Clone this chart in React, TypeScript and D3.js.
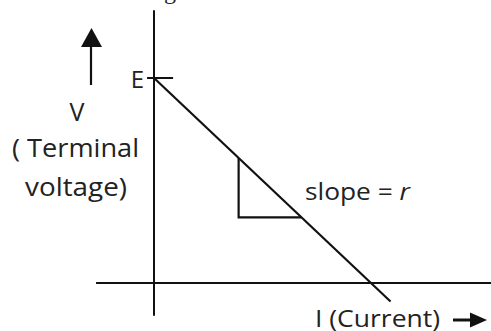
import React from "react";
import * as d3 from "d3";

// Data (arbitrary units): V = E - r * I
const emf = [10];
const slopeR = [1];
const lineCurrent = [0, 10.9];
const triangleCurrent = [3.9, 6.8];
const axisCurrentExtent = [-2.67, 15.6];
const axisVoltageExtent = [-1.6, 13.3];
const eTickCurrent = [-0.32, 0.88];
const labels = {
  e: "E",
  v: "V",
  vSub1: "( Terminal",
  vSub2: "voltage)",
  slope: "slope = ",
  slopeVar: "r",
  x: "I (Current)",
};

const W = 491;
const H = 331;

export default function App() {
  const x = d3.scaleLinear().domain([0, 10]).range([154, 371]);
  const y = d3.scaleLinear().domain([0, 10]).range([283, 78]);
  const E = emf[0];
  const r = slopeR[0];
  const V = (i: number) => E - r * i;
  const line = d3
    .line<number>()
    .x((d) => x(d))
    .y((d) => y(V(d)));
  const tri = d3.line<[number, number]>().x((d) => x(d[0])).y((d) => y(d[1]));
  const [t0, t1] = triangleCurrent;
  const triPts: [number, number][] = [
    [t0, V(t0)],
    [t0, V(t1)],
    [t1, V(t1)],
  ];
  const stroke = "#111";
  const font = "'Open Sans', Lato, sans-serif";
  const textColor = "#222";
  return (
    <svg
      width={W}
      height={H}
      style={{ position: "absolute", left: 0, top: 0, background: "#fff" }}
    >
      <text
        x={30}
        y={-1}
        fontFamily="'Liberation Serif', serif"
        fontSize={24}
        fill="#222"
      >
        terminal voltage V with the current I drawn
      </text>
      {/* axes */}
      <line
        x1={x(0)}
        x2={x(0)}
        y1={y(axisVoltageExtent[1])}
        y2={y(axisVoltageExtent[0])}
        stroke={stroke}
        strokeWidth={2}
      />
      <line
        x1={x(axisCurrentExtent[0])}
        x2={x(axisCurrentExtent[1])}
        y1={y(0)}
        y2={y(0)}
        stroke={stroke}
        strokeWidth={2}
      />
      {/* E tick */}
      <line
        x1={x(eTickCurrent[0])}
        x2={x(eTickCurrent[1])}
        y1={y(E)}
        y2={y(E)}
        stroke={stroke}
        strokeWidth={2}
      />
      <text
        x={x(0) - 10}
        y={y(E)}
        textAnchor="end"
        dominantBaseline="central"
        fontFamily={font}
        fontSize={24}
        fill={textColor}
      >
        {labels.e}
      </text>
      {/* V-I line */}
      <path d={line(lineCurrent) || ""} fill="none" stroke={stroke} strokeWidth={2.2} />
      {/* slope triangle */}
      <path d={tri(triPts) || ""} fill="none" stroke={stroke} strokeWidth={2.2} />
      <text
        x={305}
        y={200}
        fontFamily={font}
        fontSize={23}
        fill={textColor}
        textLength={105}
        lengthAdjust="spacingAndGlyphs"
      >
        {labels.slope}
        <tspan fontStyle="italic">{labels.slopeVar}</tspan>
      </text>
      {/* V arrow */}
      <line x1={91} x2={91} y1={85} y2={44} stroke={stroke} strokeWidth={2.2} />
      <path d="M81,47 L91.5,28 L102,47 Z" fill={stroke} />
      <text x={77} y={121} textAnchor="middle" fontFamily={font} fontSize={25} fill={textColor}>
        {labels.v}
      </text>
      <text
        x={12}
        y={157}
        fontFamily={font}
        fontSize={25}
        fill={textColor}
        textLength={127}
        lengthAdjust="spacingAndGlyphs"
      >
        {labels.vSub1}
      </text>
      <text
        x={25}
        y={196}
        fontFamily={font}
        fontSize={25}
        fill={textColor}
        textLength={102}
        lengthAdjust="spacingAndGlyphs"
      >
        {labels.vSub2}
      </text>
      {/* I label + arrow */}
      <text
        x={315}
        y={327}
        fontFamily={font}
        fontSize={23}
        fill={textColor}
        textLength={125}
        lengthAdjust="spacingAndGlyphs"
      >
        {labels.x}
      </text>
      <line x1={453} x2={474} y1={320} y2={320} stroke={stroke} strokeWidth={3} />
      <path d="M470,312.5 L487,320 L470,327.5 Z" fill={stroke} />
    </svg>
  );
}
